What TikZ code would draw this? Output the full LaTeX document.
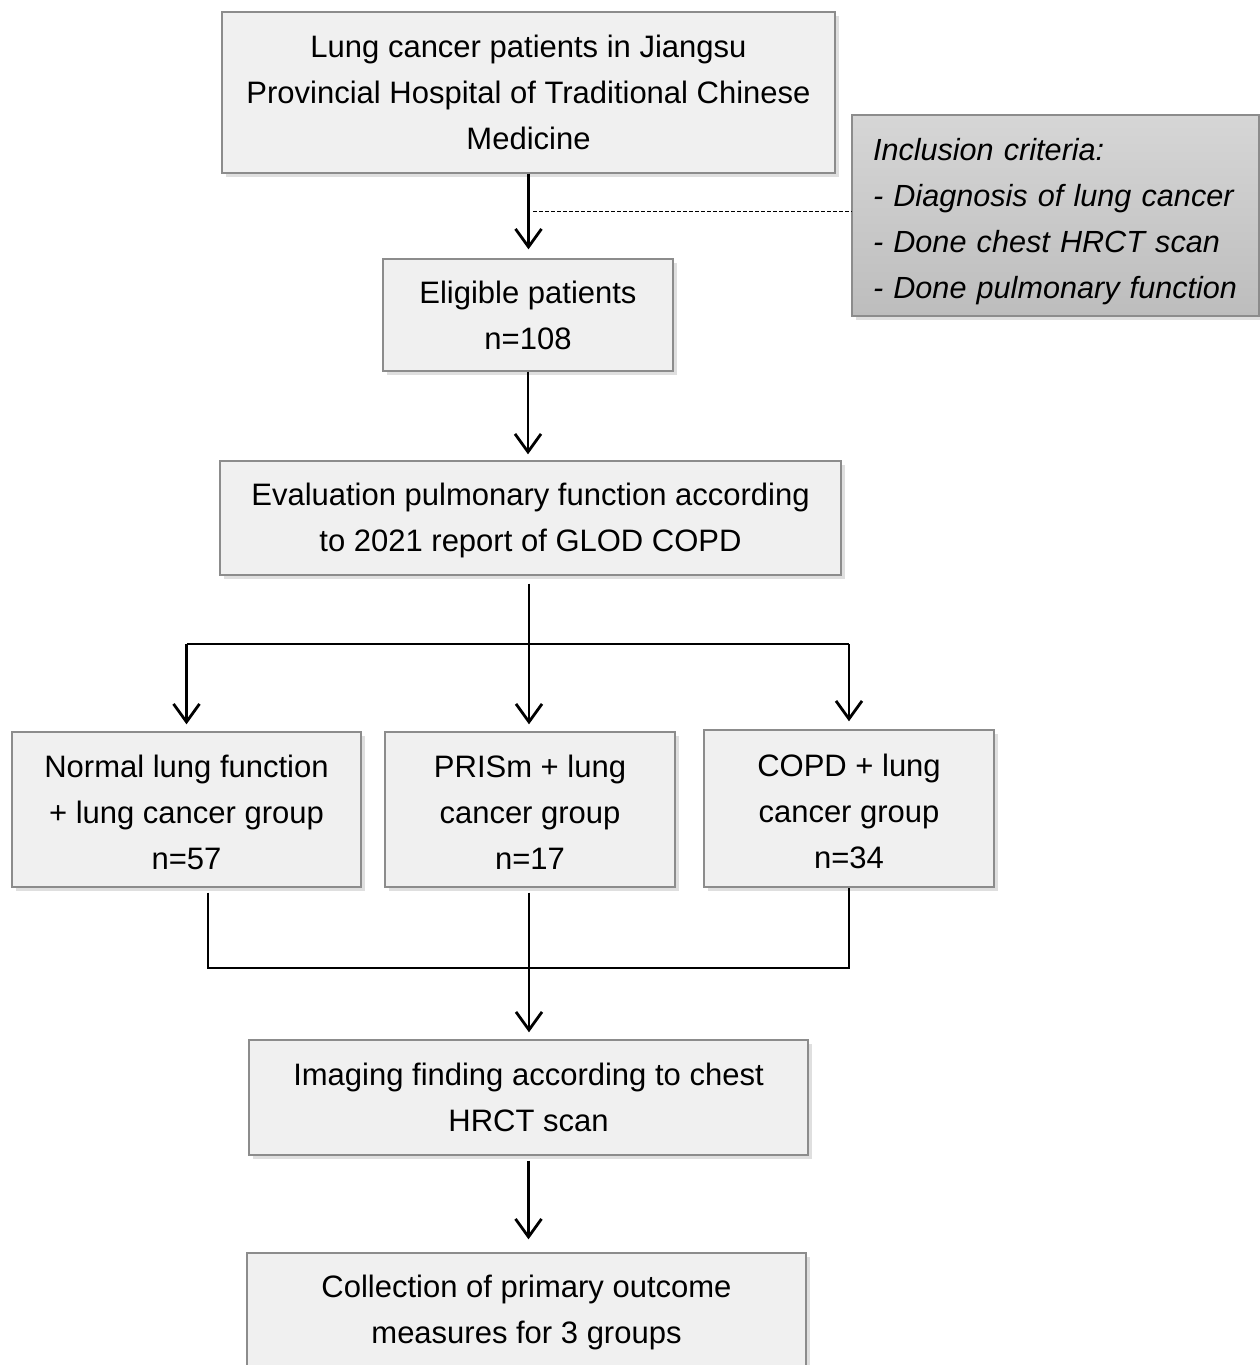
\documentclass[tikz,border=0pt]{standalone}
\usepackage{fontspec}
\setmainfont{Liberation Sans}
\usetikzlibrary{arrows.meta,shadows}

\definecolor{boxfill}{HTML}{F0F0F0}
\definecolor{boxline}{HTML}{8C8C8C}
\definecolor{critTop}{HTML}{D6D6D6}
\definecolor{critBot}{HTML}{BDBDBD}

\newcommand{\lift}[1]{\rule{0pt}{#1}}

\tikzset{
    flowbox/.style={draw=boxline, line width=0.7pt, fill=boxfill, align=center,
        inner sep=0pt, font=\fontsize{15.5}{23}\selectfont,
        drop shadow={shadow xshift=2pt, shadow yshift=-2pt, opacity=0.25, fill=gray}},
    critbox/.style={flowbox, top color=critTop, bottom color=critBot, align=left,
        inner xsep=10.5pt, font=\fontsize{15.3}{23}\selectfont\itshape},
    flowarrow/.style={line width=1.4pt, -{Straight Barb[length=9pt,width=13pt,line width=1.4pt]}},
    joinline/.style={line width=0.9pt},
    critline/.style={line width=0.5pt, dashed, dash pattern=on 2pt off 1pt}
}

\begin{document}
\begin{tikzpicture}[x=0.5pt, y=-0.5pt]
    \useasboundingbox (0,0) rectangle (1259,1365);

    % boxes
    \node[flowbox, minimum width=306.5pt, minimum height=80.5pt] (patients) at (528.5,92.5)
        {Lung cancer patients in Jiangsu\\Provincial Hospital of Traditional Chinese\\Medicine};
    \node[critbox, text width=182.5pt, minimum height=100.5pt] (criteria) at (1055.5,215.5)
        {\lift{17pt}Inclusion criteria:\\- Diagnosis of lung cancer\\- Done chest HRCT scan\\- Done pulmonary function};
    \node[flowbox, minimum width=145pt, minimum height=56pt] (eligible) at (528,315)
        {Eligible patients\\n=108};
    \node[flowbox, minimum width=310.5pt, minimum height=57pt] (evaluation) at (530.5,518)
        {\lift{14pt}Evaluation pulmonary function according\\to 2021 report of GLOD COPD};
    \node[flowbox, minimum width=174.5pt, minimum height=77.5pt] (normal) at (186.5,809.5)
        {\lift{14.3pt}Normal lung function\\+ lung cancer group\\n=57};
    \node[flowbox, minimum width=145pt, minimum height=77.5pt] (prism) at (530,809.5)
        {\lift{14.3pt}PRISm + lung\\cancer group\\n=17};
    \node[flowbox, minimum width=145pt, minimum height=78.5pt] (copd) at (849,808.5)
        {\lift{14.3pt}COPD + lung\\cancer group\\n=34};
    \node[flowbox, minimum width=279.5pt, minimum height=57.5pt] (imaging) at (528.5,1097.5)
        {Imaging finding according to chest\\HRCT scan};
    \node[flowbox, minimum width=279.5pt, minimum height=57pt] (collection) at (526.5,1310)
        {\lift{14pt}Collection of primary outcome\\measures for 3 groups};

    % helper points
    \coordinate (dashstart) at (533,211);
    \coordinate (split) at (529,644);
    \coordinate (joinL) at (208,968);
    \coordinate (joinR) at (849,968);

    % connectors
    \draw[flowarrow, shorten >=4.5pt] (patients.south) -- (patients.south |- eligible.north);
    \draw[critline] (dashstart) -- (dashstart -| criteria.west);
    \draw[flowarrow, shorten >=3pt] (eligible.south) -- (eligible.south |- evaluation.north);
    \draw[flowarrow, shorten <=4pt, shorten >=3.5pt] (split |- evaluation.south) -- (split |- prism.north);
    \draw[joinline, line width=1pt] (split -| normal.north) -- (split -| copd.north);
    \draw[flowarrow, shorten >=3.5pt] (split -| normal.north) -- (normal.north);
    \draw[flowarrow, shorten >=4pt] (split -| copd.north) -- (copd.north);
    \draw[joinline, shorten <=2.5pt] (joinL |- normal.south) -- (joinL) -- (joinR) -- (joinR |- copd.south);
    \draw[flowarrow, shorten <=2.5pt, shorten >=3.5pt] (split |- prism.south) -- (split |- imaging.north);
    \draw[flowarrow, shorten <=2.5pt, shorten >=6.5pt] (imaging.south) -- (imaging.south |- collection.north);
\end{tikzpicture}
\end{document}
